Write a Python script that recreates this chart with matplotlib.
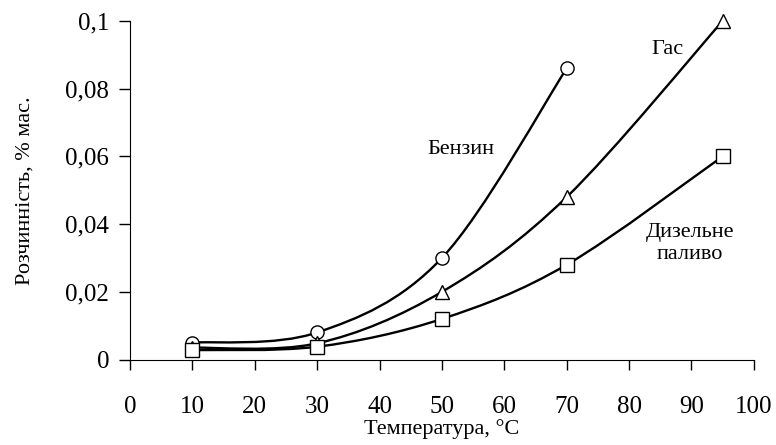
import matplotlib
matplotlib.use("Agg")
import matplotlib.pyplot as plt
from matplotlib.path import Path
from matplotlib.patches import PathPatch
import numpy as np

plt.rcParams['font.family'] = ['Liberation Serif', 'DejaVu Serif']
plt.rcParams['figure.figsize'] = 7.76, 4.45
plt.rcParams['figure.dpi'] = 100

# data
t_benzin = [10, 30, 50, 70]
s_benzin = [0.005, 0.008, 0.030, 0.086]

t_gas = [10, 30, 50, 70, 95]
s_gas = [0.0035, 0.0048, 0.020, 0.048, 0.100]

t_diesel = [10, 30, 50, 70, 95]
s_diesel = [0.0028, 0.0038, 0.012, 0.028, 0.060]

x_ticks = [0, 10, 20, 30, 40, 50, 60, 70, 80, 90, 100]
y_ticks = [0, 0.02, 0.04, 0.06, 0.08, 0.1]
y_ticklabels = ['0', '0,02', '0,04', '0,06', '0,08', '0,1']


def smooth_path(x, y):
    # excel-like smoothed line: cubic bezier segments through the points
    p = np.column_stack([x, y]).astype(float)
    n = len(p)
    verts = [p[0]]
    codes = [Path.MOVETO]
    for i in range(n - 1):
        p_prev = p[i - 1] if i > 0 else p[i]
        p_next2 = p[i + 2] if i + 2 < n else p[i + 1]
        c1 = p[i] + (p[i + 1] - p_prev) / 6.0
        c2 = p[i + 1] - (p_next2 - p[i]) / 6.0
        verts += [c1, c2, p[i + 1]]
        codes += [Path.CURVE4] * 3
    return Path(verts, codes)


fig = plt.figure()
ax = fig.add_axes([0.1675, 0.192, 0.804, 0.761])

for x, y, m in [(t_benzin, s_benzin, 'o'), (t_gas, s_gas, '^'), (t_diesel, s_diesel, 's')]:
    ax.add_patch(PathPatch(smooth_path(x, y), facecolor='none', edgecolor='black',
                           lw=1.7, zorder=2))
    ax.plot(x, y, linestyle='none', marker=m, markersize=9.5, markerfacecolor='white',
            markeredgecolor='black', markeredgewidth=1.0, zorder=3, clip_on=False)

ax.set_xlim(0, 100)
ax.set_ylim(0, 0.1)
ax.set_xticks(x_ticks)
ax.set_xticklabels([str(v) for v in x_ticks], fontsize=18)
ax.set_yticks(y_ticks)
ax.set_yticklabels(y_ticklabels, fontsize=18)

ax.spines['right'].set_visible(False)
ax.spines['top'].set_visible(False)
ax.tick_params(axis='x', direction='out', length=7, width=1, pad=19)
ax.tick_params(axis='y', direction='out', length=8, width=1, pad=7)

ax.set_xlabel('Температура, °C', fontsize=16, labelpad=1)
ax.set_ylabel('Розчинність, % мас.', fontsize=16, labelpad=22)

ax.text(53.0, 0.062, 'Бензин', fontsize=16, ha='center', va='center')
ax.text(86.1, 0.0916, 'Гас', fontsize=16, ha='center', va='center')
ax.text(89.7, 0.0343, 'Дизельне\nпаливо', fontsize=16, ha='center', va='center',
        linespacing=1.2)

plt.savefig('out.png', dpi=100)
